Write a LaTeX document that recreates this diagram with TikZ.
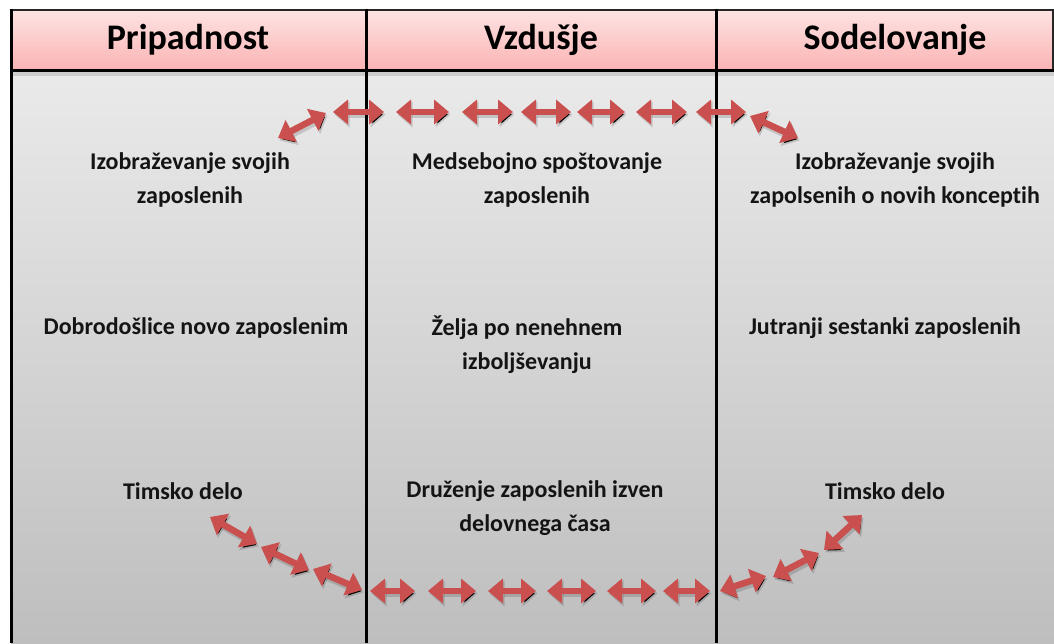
\documentclass[tikz,border=0pt]{standalone}
\usepackage{fontspec}
\setmainfont{Carlito}[Ligatures={NoCommon}]
\usetikzlibrary{arrows.meta}
\definecolor{arrred}{HTML}{C9504E}
\definecolor{hdtop}{HTML}{FDE3E3}
\definecolor{hdbot}{HTML}{FBB3B3}
\definecolor{bdtop}{HTML}{EAEAEA}
\definecolor{bdbot}{HTML}{BEBEBE}
\tikzset{
  hdr/.style={font=\bfseries\fontsize{36}{40}\selectfont, inner sep=0pt},
  txt/.style={font=\bfseries\fontsize{24}{34}\selectfont, align=center, inner sep=0pt, text=black!92},
  dbl/.style={draw=arrred, line width=6.5pt,
    {Triangle[length=15pt,width=24pt]}-{Triangle[length=15pt,width=24pt]},
    preaction={draw=black, draw opacity=0.15, line width=7.5pt, transform canvas={shift={(1.5pt,-2.5pt)}},
    {Triangle[length=15pt,width=25pt]}-{Triangle[length=15pt,width=25pt]}}},
  thickline/.style={line width=3pt, black},
  thinline/.style={line width=1.3pt, black!85}
}
\begin{document}
\begin{tikzpicture}[x=1pt,y=-1pt]
\useasboundingbox (0,0) rectangle (1054,643);
\fill[white] (0,0) rectangle (1054,643);
% body
\shade[top color=bdtop, bottom color=bdbot] (11,70) rectangle (1054,643);
% header
\shade[top color=hdtop, bottom color=hdbot] (11,10) rectangle (1053,70);
\fill[black, opacity=0.12] (11,71) rectangle (1054,76);
% borders
\draw[thinline] (11,10) -- (1053,10) -- (1053,70);
\draw[thickline] (11,70) -- (1054,70);
\draw[thickline] (11,8.7) -- (11,643);
\draw[thickline] (366,8.7) -- (366,643);
\draw[thickline] (716,8.7) -- (716,643);
% headers
\node[hdr] (h1) at (188,40) {Pripadnost};
\node[hdr] (h2) at (541,40) {Vzdušje};
\node[hdr] (h3) at (895,40) {Sodelovanje};
% texts
\node[txt] (t11) at (190,180) {Izobraževanje svojih\\zaposlenih};
\node[txt] (t12) at (196,328) {Dobrodošlice novo zaposlenim};
\node[txt] (t13) at (183,491) {Timsko delo};
\node[txt] (t21) at (537,180) {Medsebojno spoštovanje\\zaposlenih};
\node[txt] (t22) at (527,345) {Želja po nenehnem\\izboljševanju};
\node[txt] (t23) at (535,508) {Druženje zaposlenih izven\\delovnega časa};
\node[txt] (t31) at (895,180) {Izobraževanje svojih\\zapolsenih o novih konceptih};
\node[txt] (t32) at (885,328) {Jutranji sestanki zaposlenih};
\node[txt] (t33) at (885,491) {Timsko delo};
% top arrows
\coordinate (a0s) at (278,138); \coordinate (a0e) at (326,113);
\coordinate (a1s) at (333,112); \coordinate (a1e) at (384,112);
\coordinate (a2s) at (396,112); \coordinate (a2e) at (449,112);
\coordinate (a3s) at (462,112); \coordinate (a3e) at (513,112);
\coordinate (a4s) at (521,112); \coordinate (a4e) at (571,112);
\coordinate (a5s) at (577,112); \coordinate (a5e) at (625,112);
\coordinate (a6s) at (636,112); \coordinate (a6e) at (687,112);
\coordinate (a7s) at (696,112); \coordinate (a7e) at (746,112);
\coordinate (a8s) at (750,116); \coordinate (a8e) at (798,138);
\foreach \i in {0,...,8} \draw[dbl] (a\i s) -- (a\i e);
% bottom arrows
\coordinate (b0s) at (210,517); \coordinate (b0e) at (257,544);
\coordinate (b1s) at (261,547); \coordinate (b1e) at (309,570);
\coordinate (b2s) at (313,569); \coordinate (b2e) at (362,590);
\coordinate (b3s) at (370,591); \coordinate (b3e) at (415,591);
\coordinate (b4s) at (428,591); \coordinate (b4e) at (476,591);
\coordinate (b5s) at (488,591); \coordinate (b5e) at (536,591);
\coordinate (b6s) at (547,591); \coordinate (b6e) at (596,591);
\coordinate (b7s) at (607,591); \coordinate (b7e) at (656,591);
\coordinate (b8s) at (663,591); \coordinate (b8e) at (710,591);
\coordinate (b9s) at (720,591); \coordinate (b9e) at (766,576);
\coordinate (b10s) at (773,577); \coordinate (b10e) at (819,553);
\coordinate (b11s) at (824,550); \coordinate (b11e) at (862,515);
\foreach \i in {0,...,11} \draw[dbl] (b\i s) -- (b\i e);
\end{tikzpicture}
\end{document}
